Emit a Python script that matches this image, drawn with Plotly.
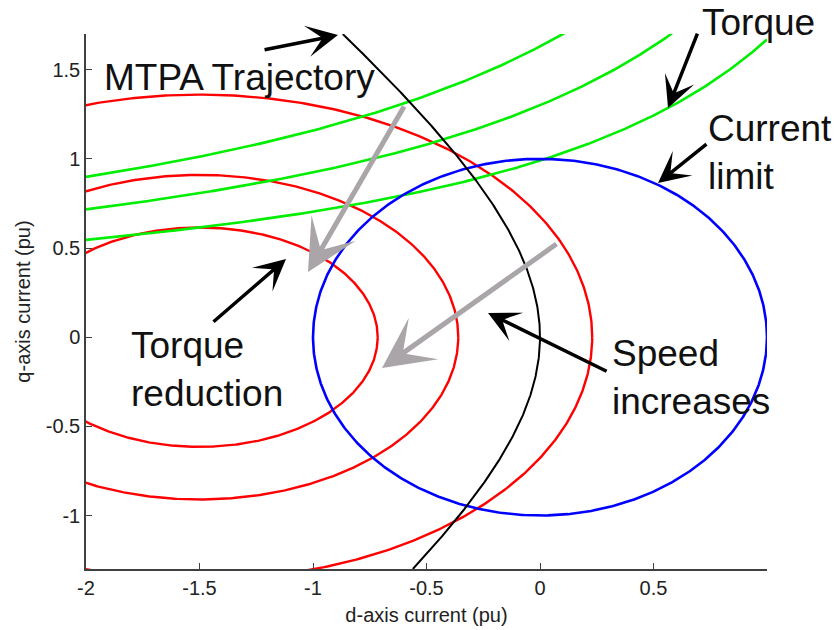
import numpy as np
import plotly.graph_objects as go

# Axis set-up (per-unit d/q currents)
d_range = [-2.0, 1.0]
q_range = [-1.3, 1.7]
x_tick_vals = [-2, -1.5, -1, -0.5, 0, 0.5]
x_tick_text = ["-2", "-1.5", "-1", "-0.5", "0", "0.5"]
y_tick_vals = [-1, -0.5, 0, 0.5, 1, 1.5]
y_tick_text = ["-1", "-0.5", "0", "0.5", "1", "1.5"]

# Machine parameters (pu)
psi_m = 1.0            # magnet flux linkage
saliency = 0.407       # Lq - Ld
current_limit = 1.0    # stator current limit radius

# Constant-torque levels
torque_levels = [1.63, 1.30, 0.99]

# Voltage-limit ellipses at increasing speed (outer -> inner)
ellipse_center_d = -1.5
ellipse_semi_d = [1.73, 1.14, 0.785]
ellipse_semi_q = [1.36, 0.91, 0.615]

RED, GREEN, BLUE, BLACK = "#ff0000", "#00ee00", "#0000ff", "#000000"
GRAY = "#a9a5a9"
FONT = "Liberation Sans, Arial, sans-serif"

fig = go.Figure()

theta = np.linspace(0, 2 * np.pi, 721)

# voltage-limit ellipses
for a, b in zip(ellipse_semi_d, ellipse_semi_q):
    fig.add_trace(go.Scatter(
        x=ellipse_center_d + a * np.cos(theta), y=b * np.sin(theta),
        mode="lines", line=dict(color=RED, width=2.4), hoverinfo="skip"))

# constant-torque hyperbolas: T = iq * (psi_m + (Ld - Lq) * id)
id_grid = np.linspace(d_range[0], d_range[1], 600)
for T in torque_levels:
    iq = T / (psi_m - saliency * id_grid)
    fig.add_trace(go.Scatter(
        x=id_grid, y=iq, mode="lines",
        line=dict(color=GREEN, width=2.6), hoverinfo="skip"))

# current-limit circle
fig.add_trace(go.Scatter(
    x=current_limit * np.cos(theta), y=current_limit * np.sin(theta),
    mode="lines", line=dict(color=BLUE, width=2.6), hoverinfo="skip"))

# MTPA trajectory
iq_grid = np.linspace(q_range[0], q_range[1], 400)
k = psi_m / (2 * saliency)
id_mtpa = k - np.sqrt(k ** 2 + iq_grid ** 2)
fig.add_trace(go.Scatter(
    x=id_mtpa, y=iq_grid, mode="lines",
    line=dict(color=BLACK, width=2.0), hoverinfo="skip"))

# Annotation arrows: (tip_x, tip_y, tail_x, tail_y)
black_arrows = [
    (-0.890, 1.694, -1.220, 1.610),   # MTPA trajectory
    (0.564, 1.285, 0.696, 1.711),     # torque
    (0.520, 0.865, 0.740, 1.089),     # current limit
    (-1.119, 0.438, -1.445, 0.079),   # torque reduction
    (-0.229, 0.136, 0.300, -0.195),   # speed increases
]
gray_arrows = [
    (-1.022, 0.365, -0.595, 1.302),
    (-0.696, -0.173, 0.079, 0.528),
]

annotations = []
for tx, ty, sx, sy in black_arrows:
    annotations.append(dict(
        x=tx, y=ty, ax=sx, ay=sy, xref="x", yref="y", axref="x", ayref="y",
        text="", showarrow=True, arrowhead=3, arrowsize=1.5, arrowwidth=3.5,
        arrowcolor=BLACK))
for tx, ty, sx, sy in gray_arrows:
    annotations.append(dict(
        x=tx, y=ty, ax=sx, ay=sy, xref="x", yref="y", axref="x", ayref="y",
        text="", showarrow=True, arrowhead=3, arrowsize=1.7, arrowwidth=5,
        arrowcolor=GRAY))

# text labels: (x in data units, y in paper units)
labels = [
    (-1.9295, 0.9196, "MTPA Trajectory"),
    (0.7048, 1.0206, "Torque"),
    (0.7313, 0.7785, "Current<br>limit"),
    (-1.8106, 0.3720, "Torque<br>reduction"),
    (0.3084, 0.3579, "Speed<br>increases"),
]
for lx, ly, txt in labels:
    annotations.append(dict(
        x=lx, y=ly, xref="x", yref="paper", text=txt, showarrow=False,
        xanchor="left", yanchor="middle", align="left",
        font=dict(family=FONT, size=37, color="#111111")))

axis_common = dict(
    showgrid=False, zeroline=False, showline=True, linecolor="#404040",
    linewidth=1.5, ticks="inside", ticklen=6, tickwidth=1.3,
    tickcolor="#404040", mirror=False, automargin=False,
    tickfont=dict(family=FONT, size=20, color="#222222"),
)

fig.update_layout(
    width=837, height=630,
    margin=dict(l=86, r=70, t=34, b=61),
    paper_bgcolor="white", plot_bgcolor="white",
    showlegend=False,
    annotations=annotations,
    xaxis=dict(range=d_range, tickvals=x_tick_vals, ticktext=x_tick_text,
               title=dict(text="d-axis current (pu)", standoff=10,
                          font=dict(family=FONT, size=20, color="#222222")),
               **axis_common),
    yaxis=dict(range=q_range, tickvals=y_tick_vals, ticktext=y_tick_text,
               title=dict(text="q-axis current (pu)", standoff=10,
                          font=dict(family=FONT, size=20, color="#222222")),
               **axis_common),
)

fig.write_html("out.html")
